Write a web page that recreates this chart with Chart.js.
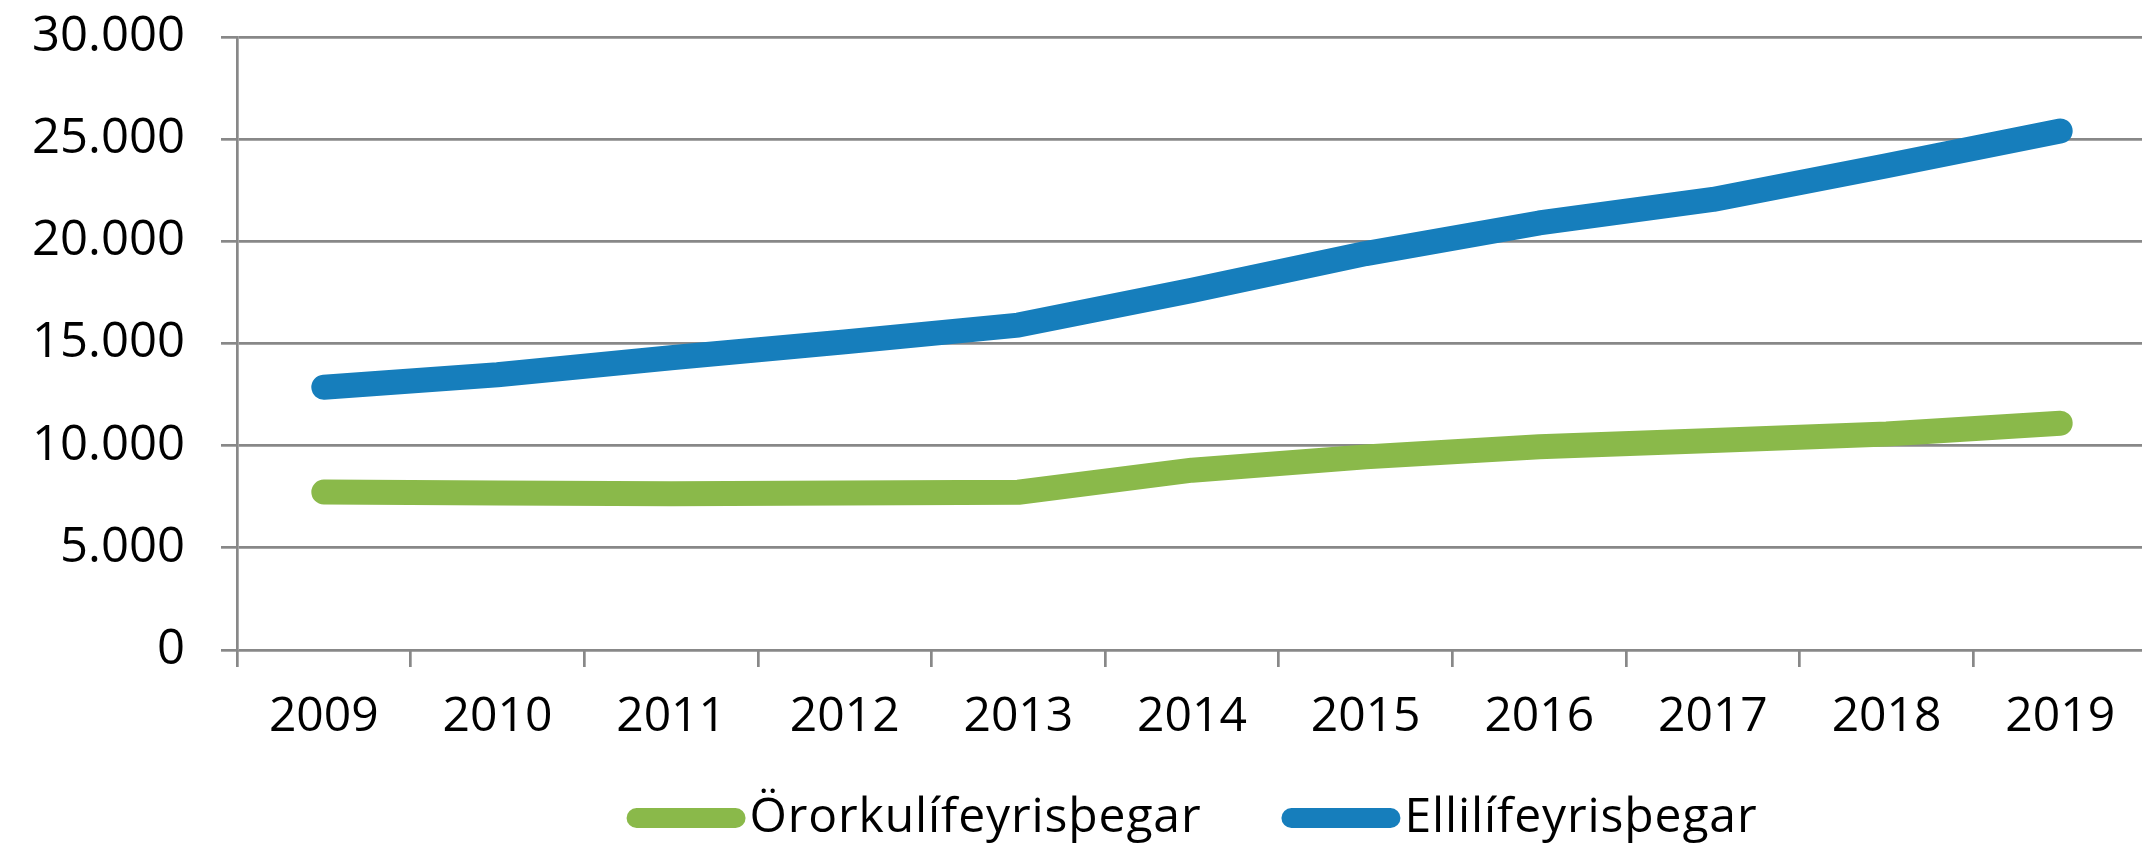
<!DOCTYPE html>
<html>
<head>
<meta charset="utf-8">
<script src="https://cdn.jsdelivr.net/npm/chart.js@4/dist/chart.umd.min.js"></script>
<style>
  html, body { margin: 0; padding: 0; background: #fff; overflow: hidden; }
  #wrap { position: relative; width: 2148px; height: 850px; }
</style>
</head>
<body>
<div id="wrap"><canvas id="chart"></canvas></div>
<script>
const years = ['2009', '2010', '2011', '2012', '2013', '2014', '2015', '2016', '2017', '2018', '2019'];
const ororka = [7730, 7680, 7650, 7680, 7720, 8800, 9450, 9950, 10250, 10570, 11100];
const ellili = [12860, 13470, 14300, 15080, 15900, 17600, 19400, 20900, 22050, 23700, 25400];
const seriesNames = ['Örorkulífeyrisþegar', 'Ellilífeyrisþegar'];
const yTicks = [0, 5000, 10000, 15000, 20000, 25000, 30000];

const green = '#8ab94a';
const blue = '#167ebc';
const gridGray = '#888888';
const fontFamily = '"Open Sans", "Noto Sans", sans-serif';

function fmt(v) {
    return String(v).replace(/\B(?=(\d{3})+(?!\d))/g, '.');
}

// legend drawn by hand: pill + label, centred under the plot area
const pillLegend = {
    id: 'pillLegend',
    afterDraw(chart) {
        const ctx = chart.ctx;
        const area = chart.chartArea;
        const y = 818;
        const pillW = 119;
        const gap = 4;
        const itemGap = 80;
        ctx.save();
        ctx.font = '48px ' + fontFamily;
        ctx.letterSpacing = '0.9px';
        const items = chart.data.datasets.map(ds => ({
            label: ds.label,
            color: ds.borderColor,
            textW: ctx.measureText(ds.label).width
        }));
        let total = 0;
        items.forEach((it, i) => { total += pillW + gap + it.textW + (i ? itemGap : 0); });
        let x = (area.left + area.right) / 2 - total / 2;
        items.forEach(it => {
            ctx.strokeStyle = it.color;
            ctx.lineWidth = 20;
            ctx.lineCap = 'round';
            ctx.beginPath();
            ctx.moveTo(x + 10, y);
            ctx.lineTo(x + pillW - 10, y);
            ctx.stroke();
            ctx.fillStyle = '#000';
            ctx.textBaseline = 'middle';
            ctx.fillText(it.label, x + pillW + gap, y);
            x += pillW + gap + it.textW + itemGap;
        });
        ctx.restore();
    }
};

const ctx = document.getElementById('chart').getContext('2d');
new Chart(ctx, {
    type: 'line',
    data: {
        labels: years,
        datasets: [{
            label: seriesNames[0],
            data: ororka,
            borderColor: green,
            backgroundColor: green,
            borderWidth: 25,
            borderCapStyle: 'round',
            borderJoinStyle: 'round',
            pointRadius: 0,
            tension: 0
        }, {
            label: seriesNames[1],
            data: ellili,
            borderColor: blue,
            backgroundColor: blue,
            borderWidth: 25,
            borderCapStyle: 'round',
            borderJoinStyle: 'round',
            pointRadius: 0,
            tension: 0
        }]
    },
    options: {
        responsive: true,
        maintainAspectRatio: false,
        animation: false,
        layout: { padding: { top: 37, right: 1, left: 0, bottom: 0 } },
        plugins: {
            legend: { display: false },
            tooltip: { enabled: false }
        },
        scales: {
            x: {
                offset: true,
                grid: {
                    display: true,
                    offset: true,
                    drawOnChartArea: false,
                    drawTicks: true,
                    tickLength: 17,
                    color: gridGray,
                    lineWidth: 2.7
                },
                border: { display: false },
                ticks: {
                    color: '#000',
                    font: { family: fontFamily, size: 48 },
                    padding: 22,
                    maxRotation: 0,
                    autoSkip: false
                },
                afterFit: scale => { scale.height = 200; scale.paddingLeft = 0; scale.paddingRight = 0; }
            },
            y: {
                min: 0,
                max: 30000,
                afterBuildTicks: scale => { scale.ticks = yTicks.map(v => ({ value: v })); },
                grid: {
                    color: gridGray,
                    lineWidth: 2.7,
                    tickLength: 16
                },
                border: { display: true, color: gridGray, width: 2.7 },
                ticks: {
                    color: '#000',
                    font: { family: fontFamily, size: 49 },
                    padding: 36,
                    callback: v => fmt(v)
                },
                afterFit: scale => { scale.width = 237; scale.paddingTop = 0; scale.paddingBottom = 0; }
            }
        }
    },
    plugins: [pillLegend]
});
</script>
</body>
</html>
